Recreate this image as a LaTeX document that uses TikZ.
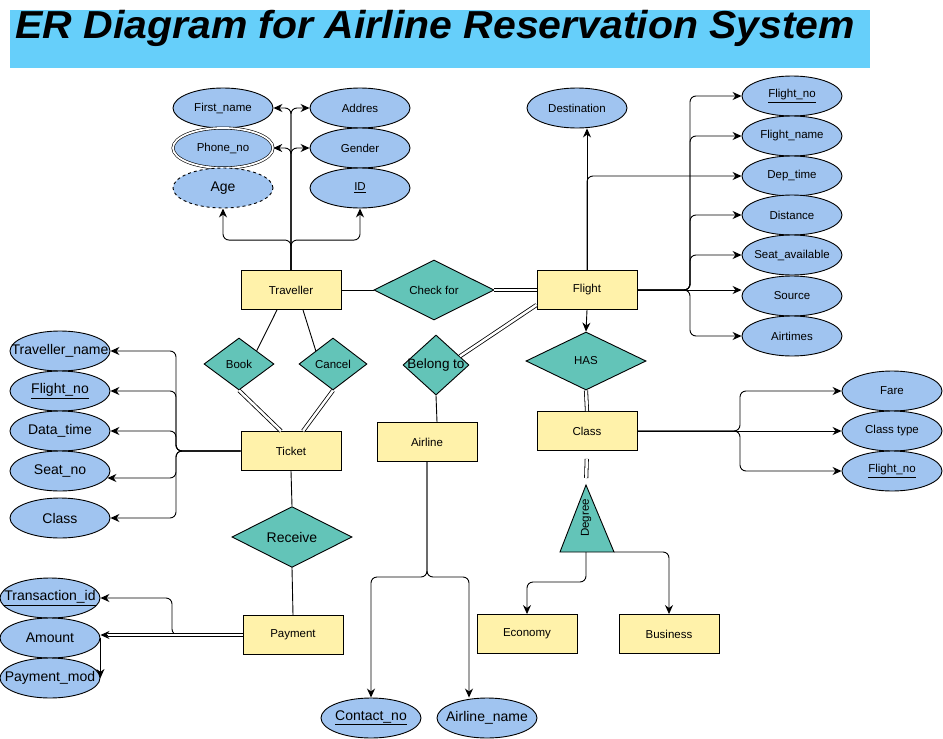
\documentclass[tikz,border=0pt]{standalone}
\usepackage{fontspec}
\setmainfont{Liberation Sans}
\usetikzlibrary{shapes.geometric, arrows.meta}

\definecolor{entfill}{RGB}{255,242,170}
\definecolor{attfill}{RGB}{160,196,240}
\definecolor{relfill}{RGB}{99,196,184}
\definecolor{titlefill}{RGB}{102,207,250}
\newcommand{\nowd}[1]{\makebox[0pt]{#1}}

\begin{document}
\begin{tikzpicture}[x=1pt, y=-1pt, line width=0.9pt,
	ent/.style={draw, fill=entfill, minimum width=100pt, minimum height=39pt, inner sep=0pt, font=\fontsize{11.5}{13}\selectfont},
	att/.style={draw, ellipse, fill=attfill, minimum width=100pt, minimum height=40pt, inner sep=0pt, font=\fontsize{11.5}{13}\selectfont},
	big/.style={font=\fontsize{14}{16}\selectfont},
	rel/.style={draw, diamond, fill=relfill, inner sep=0pt, font=\fontsize{11.5}{13}\selectfont},
	arr/.style={-{Stealth[length=9pt, width=8pt]}, rounded corners=6pt},
	dbl/.style={double, double distance=2.5pt, line width=0.8pt}]
	\useasboundingbox (0,0) rectangle (943,739);
	%
	\fill[titlefill] (10,10) rectangle (870,68);
	\node[anchor=base west, inner sep=0pt, xscale=1.05, font=\fontsize{39}{39}\selectfont\bfseries\itshape] (title) at (15,38) {ER Diagram for Airline Reservation System};
	%
	\node[ent] (trav) at (291,290) {Traveller};
	\node[ent] (flight) at (587,290) {Flight};
	\node[ent] (ticket) at (291,451) {Ticket};
	\node[ent] (airline) at (427,442) {Airline};
	\node[ent] (cls) at (587,431) {Class};
	\node[ent] (pay) at (293,635) {Payment};
	\node[ent] (eco) at (527,634) {Economy};
	\node[ent] (bus) at (669,634) {Business};
	%
	\node[rel, minimum width=120pt, minimum height=60pt] (check) at (434,290) {Check for};
	\node[rel, minimum width=70pt, minimum height=52pt] (book) at (239,364) {Book};
	\node[rel, minimum width=68pt, minimum height=52pt] (cancel) at (333,364) {Cancel};
	\node[rel, minimum width=66pt, minimum height=60pt, label={[font=\fontsize{13.5}{15}\selectfont]center:Belong to}] (belong) at (436,365) {};
	\node[rel, minimum width=120pt, minimum height=58pt] (has) at (586,361) {HAS};
	\node[rel, big, minimum width=120pt, minimum height=60pt] (receive) at (292,537) {Receive};
	%
	\coordinate (degtop) at (586,485);
	\coordinate (degl) at (560,552);
	\coordinate (degr) at (614,552);
	\coordinate (degb) at (586,552);
	\draw[fill=relfill] (degtop) -- (degr) -- (degl) -- cycle;
	\node[rotate=90, inner sep=0pt, font=\fontsize{11.5}{13}\selectfont] (deg) at (586,518) {Degree};
	%
	\node[att] (fname) at (223,108) {First\_name};
	\node[att] (addr) at (360,108) {Addres};
	\node[att, double, double distance=1.8pt, line width=0.6pt] (phone) at (223,148) {Phone\_no};
	\node[att] (gender) at (360,148) {Gender};
	\node[att, big, dashed] (age) at (223,188) {Age};
	\node[att] (id) at (360,188) {\underline{ID}};
	%
	\node[att] (dest) at (577,108) {Destination};
	\node[att] (fno) at (792,96) {\underline{Flight\_no}};
	\node[att] (fnamef) at (792,136) {Flight\_name};
	\node[att] (dep) at (792,176) {Dep\_time};
	\node[att] (dist) at (792,215) {Distance};
	\node[att] (seat) at (792,255) {\nowd{Seat\_available}};
	\node[att] (src) at (792,296) {Source};
	\node[att] (airt) at (792,336) {Airtimes};
	%
	\node[att, big] (tname) at (60,351) {\nowd{Traveller\_name}};
	\node[att, big] (tfno) at (60,391) {\underline{Flight\_no}};
	\node[att, big] (dtime) at (60,431) {Data\_time};
	\node[att, big] (seatno) at (60,471) {Seat\_no};
	\node[att, big] (tclass) at (60,518) {Class};
	%
	\node[att, big] (trans) at (50,598) {\nowd{\underline{Transaction\_id}}};
	\node[att, big] (amount) at (50,638) {Amount};
	\node[att, big] (pmode) at (50,678) {\nowd{Payment\_mod}};
	%
	\node[att, big] (contact) at (371,718) {\nowd{\underline{Contact\_no}}};
	\node[att, big] (aname) at (487,718) {\nowd{Airline\_name}};
	%
	\node[att] (fare) at (892,391) {Fare};
	\node[att] (ctype) at (892,431) {Class type};
	\node[att] (cfno) at (892,471) {\underline{Flight\_no}};
	%
	\draw[arr] (trav.north) |- (fname.east);
	\draw[arr] (trav.north) |- (addr.west);
	\draw[arr] (trav.north) |- (phone.east);
	\draw[arr] (trav.north) |- (gender.west);
	\draw[arr] (trav.north) -- ++(0,-30) -| (age.south);
	\draw[arr] (trav.north) -- ++(0,-30) -| (id.south);
	%
	\coordinate (fb) at (690,290);
	\draw[arr] (flight.north) -- (flight.north |- dest.south);
	\draw[arr] (flight.north) |- (dep.west);
	\draw[arr] (flight.east) -- (fb) |- (fno.west);
	\draw[arr] (flight.east) -- (fb) |- (fnamef.west);
	\draw[arr] (flight.east) -- (fb) |- (dist.west);
	\draw[arr] (flight.east) -- (fb) |- (seat.west);
	\draw[arr] (flight.east) -- (flight.east -| src.west);
	\draw[arr] (flight.east) -- (fb) |- (airt.west);
	%
	\draw (trav.east) -- (check.west);
	\draw[dbl] (check.east) -- (flight.west);
	\draw[dbl] (belong.20) -- ([yshift=5pt]flight.south west);
	\draw (belong.south) -- ([xshift=10pt]airline.north);
	\draw ([xshift=-14pt]trav.south) -- (book.north east);
	\draw ([xshift=12pt]trav.south) -- (cancel.north west);
	\draw[dbl] (book.south) -- ([xshift=-10pt]ticket.north);
	\draw[dbl] (cancel.south) -- ([xshift=12pt]ticket.north);
	%
	\coordinate (tb) at (176,451);
	\draw[arr] (ticket.west) -- (tb) |- (tname.east);
	\draw[arr] (ticket.west) -- (tb) |- (tfno.east);
	\draw[arr] (ticket.west) -- (tb) |- (dtime.east);
	\draw[arr] (ticket.west) -- (tb) |- ([xshift=-3pt, yshift=-7pt]seatno.east);
	\draw[arr] (ticket.west) -- (tb) |- (tclass.east);
	%
	\draw (ticket.south) -- (receive.north);
	\draw (receive.south) -- (pay.north);
	\draw[arr] (pay.west) -- (172,635) |- (trans.east);
	\draw[arr] (pay.west) -- (pay.west -| amount.east);
	\draw[dbl, shorten >=8pt] (pay.west) -- (pay.west -| amount.east);
	\draw[arr] (amount.east) -- (pmode.east);
	%
	\coordinate (ab) at (427,577);
	\draw[arr] (airline.south) -- (ab) -| (contact.north);
	\draw[arr] (airline.south) -- (ab) -| ([xshift=-18pt]aname.north);
	%
	\draw[arr] (flight.south) -- (has.north);
	\draw[dbl] (has.south) -- (cls.north);
	\draw[dbl, shorten <=8pt, shorten >=7pt] (cls.south) -- (degtop);
	\draw[arr] (degb) -- ++(0,30) -| (eco.north);
	\draw[arr] (degr) -| (bus.north);
	%
	\coordinate (cb) at (740,431);
	\draw[arr] (cls.east) -- (cb) |- (fare.west);
	\draw[arr] (cls.east) -- (ctype.west);
	\draw[arr] (cls.east) -- (cb) |- (cfno.west);
\end{tikzpicture}
\end{document}
